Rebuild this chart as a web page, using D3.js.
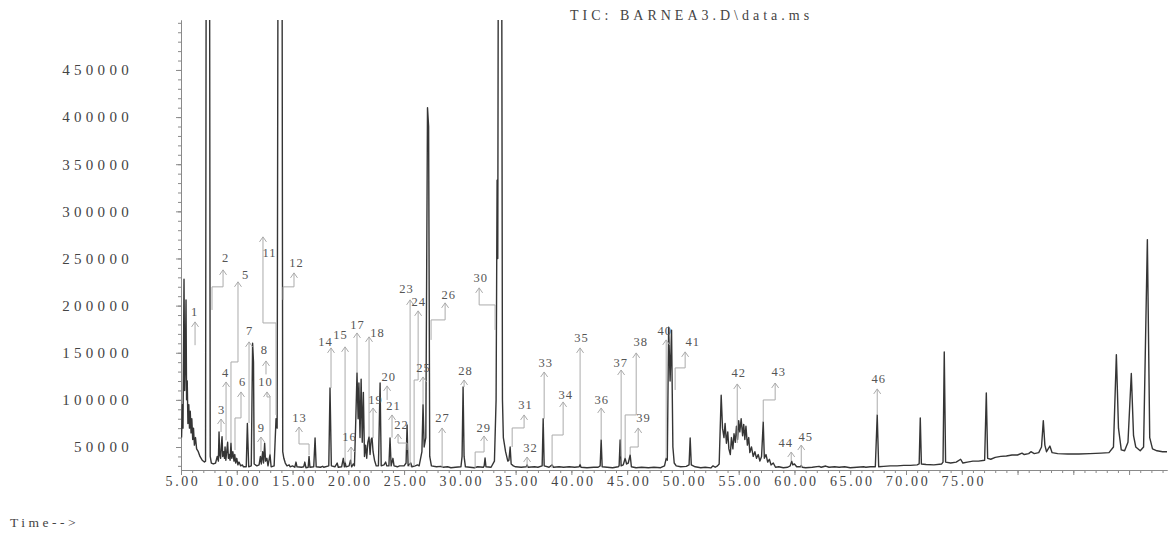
<!DOCTYPE html>
<html>
<head>
<meta charset="utf-8">
<script src="https://cdn.jsdelivr.net/npm/d3@7"></script>
<style>
  html, body { margin: 0; padding: 0; background: #fff; }
  svg { display: block; }
  svg text { font-family: 'Liberation Serif', 'Times New Roman', serif; }
</style>
</head>
<body>
<svg id="tic"></svg>
<script>
const chartTitle = 'TIC: BARNEA3.D\\data.ms';
const axisName = 'Time-->';

// tick labels
const timeLabels = [5, 10, 15, 20, 25, 30, 35, 40, 45, 50, 55, 60, 65, 70, 75];
const abundanceLabels = [50000, 100000, 150000, 200000, 250000, 300000, 350000, 400000, 450000];

// total ion current, [retention time (min), abundance]
// off-scale peaks are given 600000 and get clipped at the top
const ticTrace = [
  [5.05, 60000], [5.12, 95000], [5.18, 70000], [5.27, 228000], [5.33, 110000], [5.40, 150000],
  [5.45, 206000], [5.50, 100000], [5.56, 120000], [5.62, 75000], [5.70, 95000], [5.76, 70000],
  [5.83, 88000], [5.90, 65000], [5.97, 80000], [6.05, 58000], [6.12, 70000], [6.20, 52000],
  [6.30, 60000], [6.40, 48000], [6.55, 45000], [6.70, 40000], [6.90, 36000], [7.10, 34000],
  [7.20, 35000], [7.26, 600000], [7.56, 600000], [7.62, 40000], [7.72, 33000], [7.90, 32000],
  [8.10, 33000], [8.25, 40000], [8.35, 35000], [8.41, 66000], [8.47, 42000], [8.55, 38000],
  [8.62, 52000], [8.68, 61000], [8.74, 40000], [8.82, 45000], [8.90, 38000], [8.95, 50000],
  [9.02, 36000], [9.10, 45000], [9.18, 55000], [9.25, 38000], [9.32, 42000], [9.40, 36000],
  [9.48, 54000], [9.55, 38000], [9.65, 45000], [9.75, 35000], [9.82, 42000], [9.90, 33000],
  [10.00, 38000], [10.10, 31000], [10.20, 34000], [10.35, 30000], [10.50, 31000], [10.60, 29000],
  [10.85, 29000], [10.95, 75000], [11.07, 29000], [11.30, 30000], [11.42, 160000], [11.50, 140000],
  [11.56, 32000], [11.80, 30000], [12.00, 31000], [12.12, 40000], [12.20, 32000], [12.32, 45000],
  [12.40, 33000], [12.50, 54000], [12.58, 35000], [12.70, 38000], [12.80, 30000], [12.98, 42000],
  [13.08, 29000], [13.35, 30000], [13.52, 80000], [13.62, 70000], [13.70, 600000], [14.06, 600000],
  [14.12, 45000], [14.22, 38000], [14.35, 33000], [14.50, 30000], [14.70, 31000], [14.78, 29000],
  [15.00, 30000], [15.20, 28500], [15.31, 34000], [15.40, 29000], [15.80, 28500], [16.00, 29000],
  [16.10, 34000], [16.20, 28000], [16.40, 28500], [16.48, 40000], [16.56, 28500], [16.90, 29000],
  [17.02, 59600], [17.12, 29000], [17.50, 28500], [17.70, 29500], [17.80, 28500], [18.25, 30000],
  [18.36, 112600], [18.48, 30000], [18.80, 29000], [19.00, 33000], [19.10, 28500], [19.40, 29000],
  [19.55, 38000], [19.65, 29000], [19.71, 34000], [19.80, 29000], [20.07, 30000], [20.20, 36000],
  [20.30, 29000], [20.45, 32000], [20.55, 30000], [20.65, 70000], [20.78, 128600], [20.88, 80000],
  [20.95, 118000], [21.05, 60000], [21.15, 122000], [21.25, 55000], [21.35, 108000], [21.45, 40000],
  [21.55, 52000], [21.65, 38000], [21.75, 55000], [21.86, 60600], [21.95, 42000], [22.05, 58000],
  [22.13, 59600], [22.22, 45000], [22.35, 36000], [22.50, 30000], [22.70, 30000], [22.85, 117900],
  [22.95, 30000], [23.20, 31000], [23.35, 34000], [23.45, 30000], [23.64, 30000], [23.74, 59600],
  [23.84, 30000], [24.00, 38000], [24.10, 30000], [24.40, 29000], [24.60, 30000], [25.00, 30000],
  [25.18, 33000], [25.27, 73400], [25.36, 30000], [25.60, 33000], [25.70, 29000], [26.00, 30000],
  [26.20, 31000], [26.35, 30000], [26.60, 45000], [26.70, 95000], [26.80, 50000], [26.95, 60000],
  [27.10, 410000], [27.20, 390000], [27.30, 40000], [27.45, 30000], [27.90, 29000], [28.30, 29500],
  [28.50, 28500], [28.90, 29000], [29.20, 28000], [29.60, 28500], [30.10, 29000], [30.20, 40000],
  [30.29, 113700], [30.38, 40000], [30.50, 29000], [30.90, 28500], [31.30, 28000], [31.60, 29000],
  [32.10, 28500], [32.18, 30000], [32.26, 38300], [32.34, 29000], [32.80, 28500], [33.10, 35000],
  [33.25, 100000], [33.34, 333000], [33.40, 250000], [33.45, 600000], [33.75, 600000], [33.82, 100000],
  [33.90, 60000], [34.10, 45000], [34.30, 35000], [34.40, 36000], [34.51, 50000], [34.60, 32000],
  [34.80, 30000], [35.00, 29000], [35.50, 28500], [35.95, 29000], [36.03, 31000], [36.12, 28500],
  [36.70, 29000], [37.00, 28500], [37.38, 30000], [37.47, 80000], [37.56, 30000], [38.00, 28500],
  [38.27, 31000], [38.40, 28500], [38.90, 29000], [39.30, 28500], [39.80, 29000], [40.30, 28500],
  [40.70, 29000], [40.78, 31500], [40.86, 28500], [41.40, 28000], [42.00, 28500], [42.40, 28500],
  [42.58, 30000], [42.67, 57400], [42.76, 29000], [43.20, 28500], [43.70, 28000], [44.20, 29000],
  [44.28, 30000], [44.37, 57400], [44.46, 30000], [44.65, 31000], [44.82, 38000], [44.95, 32000],
  [45.10, 33000], [45.27, 41500], [45.38, 29000], [45.80, 28000], [46.30, 28500], [46.90, 28000],
  [47.40, 28500], [48.00, 28000], [48.35, 30000], [48.50, 38000], [48.60, 36000], [48.72, 177000],
  [48.85, 120000], [48.98, 174000], [49.10, 50000], [49.22, 33000], [49.40, 30000], [49.80, 29000],
  [50.30, 29500], [50.55, 31000], [50.65, 59600], [50.75, 31000], [51.10, 29000], [51.60, 28000],
  [52.00, 28500], [52.50, 27800], [52.70, 30000], [52.90, 28500], [53.10, 30000], [53.25, 32000],
  [53.43, 105000], [53.55, 70000], [53.68, 60000], [53.78, 75000], [53.90, 54000], [54.02, 66000],
  [54.12, 48000], [54.25, 42000], [54.35, 60000], [54.48, 48000], [54.58, 64000], [54.70, 55000],
  [54.80, 72000], [54.90, 58000], [55.00, 78000], [55.10, 66000], [55.22, 80000], [55.35, 62000],
  [55.45, 74000], [55.55, 58000], [55.65, 72000], [55.78, 52000], [55.90, 60000], [56.00, 44000],
  [56.15, 50000], [56.30, 40000], [56.45, 45000], [56.60, 38000], [56.75, 42000], [56.90, 35000],
  [57.05, 40000], [57.20, 76500], [57.30, 38000], [57.45, 42000], [57.60, 34000], [57.75, 37000],
  [57.90, 31000], [58.10, 33000], [58.30, 28500], [58.60, 29000], [59.00, 28000], [59.40, 28500],
  [59.62, 30000], [59.75, 35000], [59.85, 31000], [60.00, 32000], [60.20, 29000], [60.55, 29000],
  [60.61, 30500], [60.70, 28500], [61.00, 28000], [61.60, 28500], [62.20, 29500], [62.40, 28500],
  [62.80, 29800], [63.10, 28500], [63.60, 29000], [64.00, 28500], [64.50, 29000], [65.00, 28000],
  [65.60, 28500], [66.20, 29000], [66.40, 28500], [66.80, 29000], [67.25, 29000], [67.42, 84000],
  [67.55, 29000], [68.00, 29500], [68.60, 30000], [69.20, 30000], [69.80, 30500], [70.40, 30500],
  [71.00, 31000], [71.18, 32000], [71.28, 80800], [71.38, 32000], [71.80, 31500], [72.50, 31000],
  [73.20, 32000], [73.32, 34000], [73.43, 150900], [73.55, 34000], [74.00, 33000], [74.50, 34000],
  [74.90, 37000], [75.10, 33000], [75.50, 34000], [76.00, 35000], [76.50, 35000], [77.05, 36000],
  [77.20, 107300], [77.32, 38000], [77.60, 37000], [78.00, 39000], [78.50, 40000], [79.00, 40500],
  [79.50, 41500], [80.00, 41500], [80.40, 43500], [80.60, 42000], [81.00, 43000], [81.20, 45000],
  [81.50, 43000], [81.90, 44000], [82.15, 50000], [82.31, 78000], [82.45, 52000], [82.60, 45000],
  [82.90, 51000], [83.10, 44000], [83.60, 43000], [84.50, 42500], [85.50, 42500], [86.50, 43000],
  [87.50, 43500], [88.20, 44000], [88.60, 50000], [88.86, 148000], [89.05, 70000], [89.30, 47000],
  [89.60, 46000], [89.90, 55000], [90.20, 128000], [90.40, 62000], [90.60, 50000], [91.00, 46000],
  [91.30, 50000], [91.64, 270000], [91.85, 60000], [92.10, 48000], [92.50, 46000], [93.00, 45000],
  [93.40, 45000]
];

// peak labels: [number, text time, text abundance, arrow time, arrow abundance,
//               elbow abundance (null = straight), end time, end abundance]
const peakLabels = [
  [1, 6.17, 193300, 6.26, 182700, null, 6.26, 158000],
  [2, 8.95, 250600, 8.77, 237900, 219900, 7.78, 195400],
  [3, 8.59, 89300, 8.59, 79700, null, 8.59, 65900],
  [4, 8.95, 128600, 9.04, 119000, null, 9.04, 57000],
  [5, 10.74, 232600, 10.11, 225200, 140200, 9.48, 54200],
  [6, 10.47, 119000, 10.38, 108400, 80800, 9.84, 46800],
  [7, 11.10, 173100, 11.10, 161500, null, 11.10, 75500],
  [8, 12.44, 153000, 12.62, 141300, null, 12.62, 127000],
  [9, 12.17, 70200, 12.17, 60600, null, 12.17, 44700],
  [10, 12.53, 119000, 12.71, 108400, 103100, 12.98, 41500],
  [11, 12.89, 255950, 12.35, 272900, 181600, 13.52, 84000],
  [12, 15.31, 245300, 15.13, 234700, 219900, 14.15, 206100],
  [13, 15.58, 80800, 15.58, 71200, 53200, 16.48, 41500],
  [14, 17.91, 161500, 18.45, 155100, null, 18.45, 112600],
  [15, 19.26, 168900, 19.71, 156200, null, 19.71, 33000],
  [16, 20.07, 60600, 20.25, 50000, null, 20.25, 30900],
  [17, 20.78, 179500, 20.78, 171000, null, 20.78, 128600],
  [18, 22.58, 171000, 21.86, 166800, null, 21.86, 60600],
  [19, 22.40, 99900, 22.22, 91400, null, 22.22, 59600],
  [20, 23.57, 124300, 23.48, 114800, null, 23.48, 99900],
  [21, 24.01, 93500, 23.92, 84000, null, 23.92, 60000],
  [22, 24.73, 73400, 24.46, 63800, 54200, 25.27, 46800],
  [23, 25.18, 217700, 25.54, 206100, null, 25.54, 28800],
  [24, 26.26, 203900, 26.26, 194400, 121100, 25.90, 30900],
  [25, 26.70, 133900, 26.70, 124300, null, 26.70, 95000],
  [26, 28.95, 211400, 28.68, 202900, 184800, 27.42, 163600],
  [27, 28.41, 80800, 28.41, 70200, null, 28.41, 27700],
  [28, 30.47, 130700, 30.38, 121100, null, 30.38, 113700],
  [29, 32.09, 70200, 32.17, 61700, 44700, 31.37, 27700],
  [30, 31.82, 229400, 31.73, 218800, 200700, 33.16, 174200],
  [31, 35.85, 94600, 35.76, 84000, 70200, 34.69, 50000],
  [32, 36.30, 48900, 36.03, 39400, null, 36.03, 27700],
  [33, 37.65, 139200, 37.56, 129600, null, 37.56, 80000],
  [34, 39.44, 105200, 39.26, 97800, 62700, 38.27, 27700],
  [35, 40.87, 165700, 40.78, 155100, null, 40.78, 31500],
  [36, 42.67, 99900, 42.67, 91400, null, 42.67, 57400],
  [37, 44.37, 139200, 44.46, 131700, null, 44.46, 40000],
  [38, 46.17, 161500, 45.81, 149800, 84000, 44.82, 38000],
  [39, 46.43, 80800, 45.99, 70200, 50000, 45.27, 41500],
  [40, 48.32, 173100, 48.50, 163600, null, 48.50, 38000],
  [41, 50.83, 161500, 50.20, 150900, 133900, 49.30, 110500],
  [42, 54.96, 128600, 54.87, 116900, null, 54.87, 54200],
  [43, 58.54, 129600, 58.27, 117900, 99900, 57.20, 76500],
  [44, 59.17, 54200, 59.71, 44700, null, 59.71, 35000],
  [45, 60.96, 60600, 60.61, 52100, null, 60.61, 28000],
  [46, 67.51, 122200, 67.42, 111600, null, 67.42, 84000]
];

function drawTic(id) {
  const totalWidth = 1169;
  const totalHeight = 540;
  const margin = { top: 20, right: 2, bottom: 70, left: 181 };
  const bottom = totalHeight - margin.bottom;
  const AXIS_COLOR = '#8a8a8a';
  const LEADER_COLOR = '#ababab';
  const FONT = "'Liberation Serif', 'Times New Roman', serif";

  const svg = d3.select(id).attr('width', totalWidth).attr('height', totalHeight);

  const xScale = d3.scaleLinear([5, 93.4], [margin.left, totalWidth - margin.right]);
  const yScale = d3.scaleLinear([25600, 503000], [bottom, margin.top]);

  svg.append('clipPath')
    .attr('id', 'plot-clip')
    .append('rect')
    .attr('x', margin.left)
    .attr('y', margin.top)
    .attr('width', totalWidth - margin.left - margin.right)
    .attr('height', bottom - margin.top);

  /* x axis: minor ticks each minute, major every five */
  const minorX = d3.axisBottom(xScale)
    .tickValues(d3.range(5, 93.4, 1))
    .tickSize(3)
    .tickSizeOuter(0)
    .tickFormat('');
  const majorX = d3.axisBottom(xScale)
    .tickValues(d3.range(5, 93.4, 5))
    .tickSize(5)
    .tickSizeOuter(0)
    .tickPadding(1)
    .tickFormat(d => (timeLabels.includes(d) ? d.toFixed(2) : ''));

  svg.append('g').attr('transform', `translate(0, ${bottom})`).call(minorX);
  svg.append('g')
    .attr('transform', `translate(0, ${bottom})`)
    .call(majorX)
    .selectAll('text')
    .attr('dx', 1.5)
    .attr('font-size', 14)
    .attr('letter-spacing', '2.6px');

  /* y axis */
  const minorY = d3.axisLeft(yScale)
    .tickValues(d3.range(30000, 500001, 10000))
    .tickSize(3)
    .tickSizeOuter(0)
    .tickFormat('');
  const majorY = d3.axisLeft(yScale)
    .tickValues(abundanceLabels)
    .tickSize(5)
    .tickSizeOuter(0)
    .tickPadding(43)
    .tickFormat(d => d);

  svg.append('g').attr('transform', `translate(${margin.left}, 0)`).call(minorY);
  svg.append('g')
    .attr('transform', `translate(${margin.left}, 0)`)
    .call(majorY)
    .selectAll('text')
    .attr('font-size', 15)
    .attr('letter-spacing', '4.3px');

  svg.selectAll('g').attr('font-family', FONT);
  svg.selectAll('.domain, .tick line').attr('stroke', AXIS_COLOR);
  svg.selectAll('.tick text').attr('fill', '#444');

  /* the chromatogram */
  const line = d3.line()
    .x(d => xScale(d[0]))
    .y(d => yScale(d[1]));

  svg.append('path')
    .attr('clip-path', 'url(#plot-clip)')
    .attr('fill', 'none')
    .attr('stroke', '#353535')
    .attr('stroke-width', 1.4)
    .attr('stroke-linejoin', 'round')
    .attr('d', line(ticTrace));

  /* peak numbers with their leader lines */
  const labels = svg.append('g').attr('class', 'peak-labels');

  labels.selectAll('.leader')
    .data(peakLabels)
    .enter()
    .append('path')
    .attr('class', 'leader')
    .attr('fill', 'none')
    .attr('stroke', LEADER_COLOR)
    .attr('stroke-width', 1)
    .attr('d', function (d) {
      const ax = xScale(d[3]);
      const ay = yScale(d[4]);
      const ex = xScale(d[6]);
      const ey = yScale(d[7]);
      const arrow = `M${ax - 3.5},${ay + 5}L${ax},${ay}L${ax + 3.5},${ay + 5}`;
      if (d[5] === null) {
        return `${arrow}M${ax},${ay}L${ax},${ey}`;
      }
      const ky = yScale(d[5]);
      return `${arrow}M${ax},${ay}L${ax},${ky}L${ex},${ky}L${ex},${ey}`;
    });

  labels.selectAll('.peak-num')
    .data(peakLabels)
    .enter()
    .append('text')
    .attr('class', 'peak-num')
    .attr('x', d => xScale(d[1]))
    .attr('y', d => yScale(d[2]))
    .attr('dy', '0.35em')
    .attr('dx', 0.5)
    .attr('text-anchor', 'middle')
    .attr('font-family', FONT)
    .attr('font-size', 12.5)
    .attr('letter-spacing', '1px')
    .attr('fill', '#555')
    .text(d => d[0]);

  /* title and axis name */
  svg.append('text')
    .attr('x', 570)
    .attr('y', 20)
    .attr('font-family', FONT)
    .attr('font-size', 14)
    .attr('letter-spacing', '4px')
    .attr('fill', '#444')
    .text(chartTitle);

  svg.append('text')
    .attr('x', 10)
    .attr('y', 527)
    .attr('font-family', FONT)
    .attr('font-size', 13.5)
    .attr('letter-spacing', '3.5px')
    .attr('fill', '#444')
    .text(axisName);
}

drawTic('#tic');
</script>
</body>
</html>
